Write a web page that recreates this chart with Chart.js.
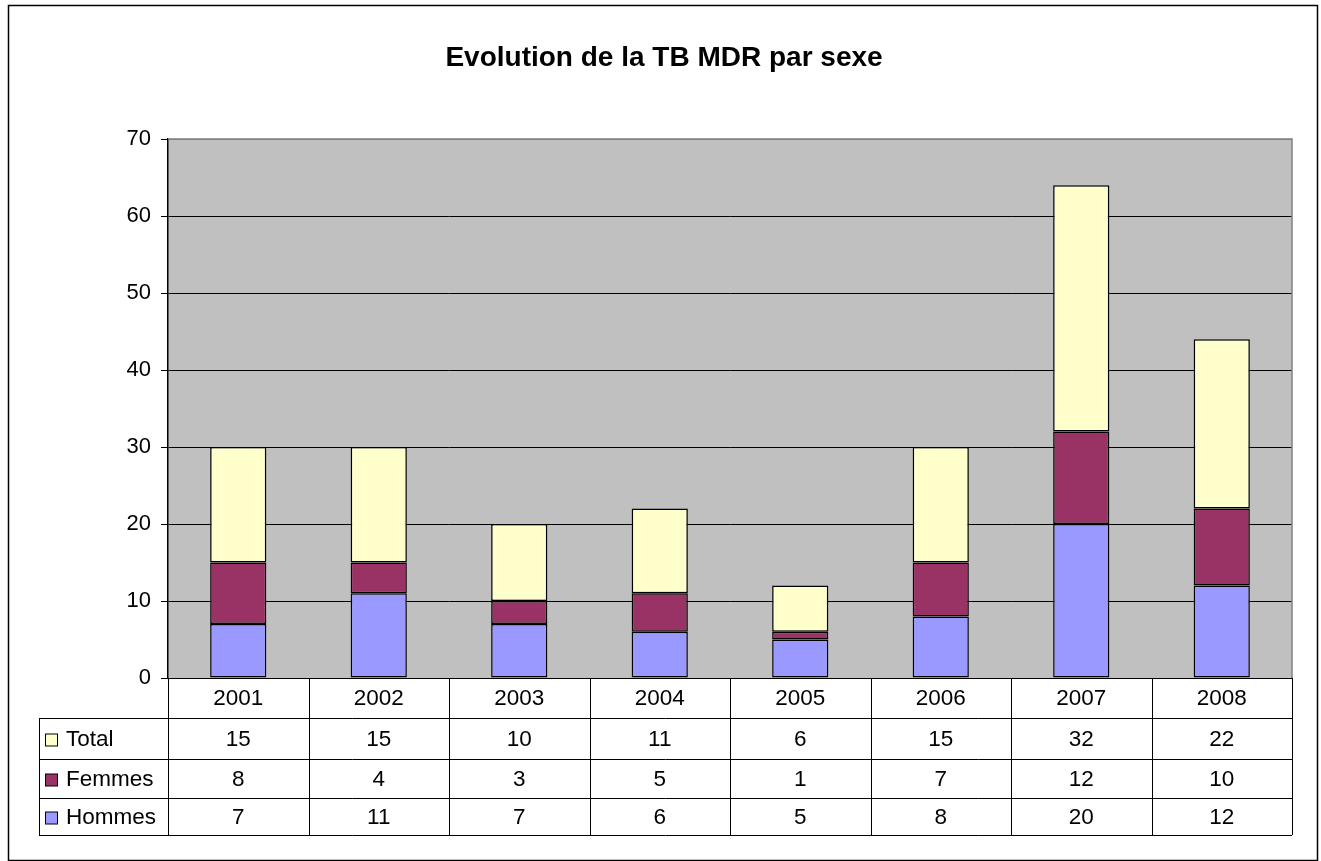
<!DOCTYPE html>
<html><head><meta charset="utf-8">
<script src="https://cdn.jsdelivr.net/npm/chart.js@4"></script>
<style>html,body{margin:0;padding:0;background:#fff;}canvas{display:block;}</style>
</head><body>
<canvas id="c" width="1321" height="861"></canvas>
<script>
const title = "Evolution de la TB MDR par sexe";
const years = ["2001","2002","2003","2004","2005","2006","2007","2008"];
const hommes = [7, 11, 7, 6, 5, 8, 20, 12];
const femmes = [8, 4, 3, 5, 1, 7, 12, 10];
const total = [15, 15, 10, 11, 6, 15, 32, 22];
const yTicks = [0, 10, 20, 30, 40, 50, 60, 70];

const FONT = "Arial, 'Liberation Sans', sans-serif";
const colors = {Hommes:"#9999FF", Femmes:"#993366", Total:"#FFFFCC"};

const framePlugin = {
  id: "frame",
  beforeDraw(chart) {
    const {ctx, chartArea:a} = chart;
    ctx.save();
    ctx.fillStyle = "#fff";
    ctx.fillRect(0,0,chart.width,chart.height);
    ctx.fillStyle = "#C0C0C0";
    ctx.fillRect(a.left, a.top, a.right-a.left, a.bottom-a.top);
    ctx.restore();
  },
  afterDraw(chart) {
    const {ctx, chartArea:a, scales} = chart;
    const x = scales.x;
    ctx.save();
    ctx.strokeStyle = "#808080"; ctx.lineWidth = 1.5;
    ctx.beginPath();
    ctx.moveTo(a.left, a.top); ctx.lineTo(a.right, a.top); ctx.lineTo(a.right, a.bottom);
    ctx.stroke();
    ctx.strokeStyle = "#000"; ctx.lineWidth = 1.5;
    ctx.strokeRect(8.5, 5.5, 1309, 855);
    ctx.fillStyle = "#000";
    ctx.font = "bold 28px " + FONT;
    ctx.textAlign = "center"; ctx.textBaseline = "middle";
    ctx.fillText(title, (a.left + a.right)/2 - 66, 58);
    const n = years.length;
    const half = (x.getPixelForValue(1) - x.getPixelForValue(0)) / 2;
    const rowH = [a.bottom, 718, 759, 798, 835];
    const tLeft = 39;
    ctx.strokeStyle = "#000"; ctx.lineWidth = 1;
    ctx.beginPath();
    for (let i = 0; i <= n; i++) {
      const px = Math.round(i < n ? x.getPixelForValue(i) - half : x.getPixelForValue(n-1) + half) + 0.5;
      ctx.moveTo(px, rowH[0]); ctx.lineTo(px, rowH[4]);
    }
    ctx.moveTo(tLeft + 0.5, rowH[1]); ctx.lineTo(tLeft + 0.5, rowH[4]);
    for (let r = 1; r <= 4; r++) {
      ctx.moveTo(tLeft, rowH[r] + 0.5); ctx.lineTo(a.right, rowH[r] + 0.5);
    }
    ctx.stroke();
    ctx.font = "22.5px " + FONT;
    ctx.fillStyle = "#000";
    ctx.textAlign = "center"; ctx.textBaseline = "middle";
    years.forEach((y, i) => ctx.fillText(y, x.getPixelForValue(i), (rowH[0]+rowH[1])/2 + 1));
    const rows = [["Total", total], ["Femmes", femmes], ["Hommes", hommes]];
    rows.forEach(([name, vals], r) => {
      const cy = (rowH[r+1] + rowH[r+2]) / 2 + 1;
      vals.forEach((v, i) => { ctx.textAlign = "center"; ctx.fillStyle="#000"; ctx.fillText(String(v), x.getPixelForValue(i), cy); });
      ctx.fillStyle = colors[name];
      ctx.fillRect(45.5, cy - 5.5, 12, 12);
      ctx.strokeStyle = "#000"; ctx.lineWidth = 1;
      ctx.strokeRect(45.5, cy - 5.5, 12, 12);
      ctx.fillStyle = "#000"; ctx.textAlign = "left";
      ctx.fillText(name, 66, cy);
    });
    ctx.restore();
  }
};

new Chart(document.getElementById("c"), {
  type: "bar",
  data: {
    labels: years,
    datasets: [
      {label:"Hommes", data:hommes, backgroundColor:colors.Hommes, borderColor:"#000", borderWidth:1.5, borderSkipped:false},
      {label:"Femmes", data:femmes, backgroundColor:colors.Femmes, borderColor:"#000", borderWidth:1.5, borderSkipped:false},
      {label:"Total", data:total, backgroundColor:colors.Total, borderColor:"#000", borderWidth:1.5, borderSkipped:false}
    ]
  },
  options: {
    responsive: false,
    animation: false,
    layout: {padding: {left: 0, right: 29, top: 139, bottom: 183}},
    plugins: {legend:{display:false}, title:{display:false}, tooltip:{enabled:false}},
    datasets: {bar: {barPercentage: 0.4, categoryPercentage: 1.0}},
    scales: {
      x: {stacked: true, display: false},
      y: {
        stacked: true, min: 0, max: 70,
        afterFit(s){ s.width = 168; },
        afterBuildTicks(s){ s.ticks = yTicks.map(v => ({value: v})); },
        ticks: {color:"#000", font:{family:FONT, size:22}, padding: 10},
        grid: {color: c => c.tick && c.tick.value === 70 ? "#808080" : "#000", lineWidth: 1, tickLength: 7, tickColor: "#000"},
        border: {display: true, color: "#000", width: 1.5}
      }
    }
  },
  plugins: [framePlugin]
});
</script>
</body></html>
